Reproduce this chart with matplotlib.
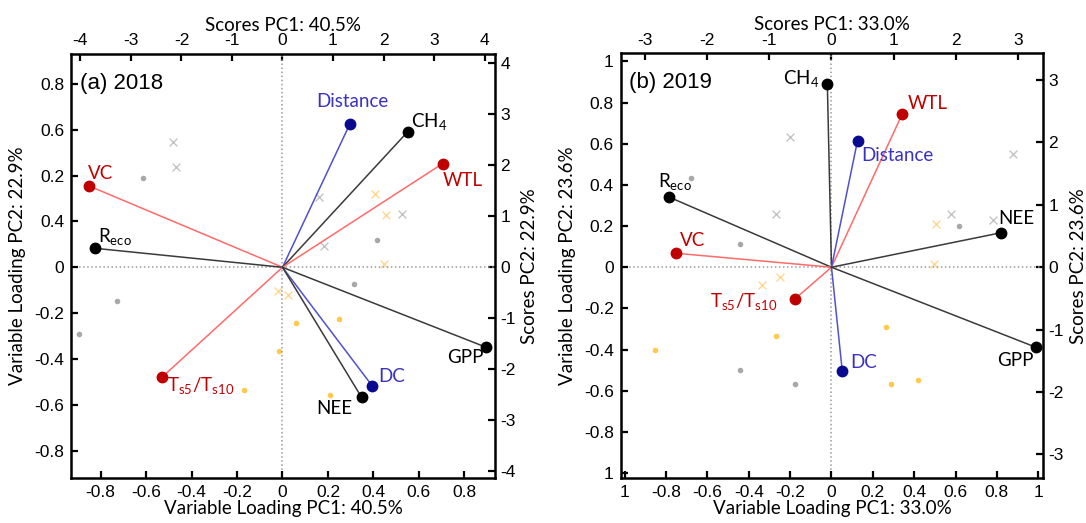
import matplotlib
matplotlib.use("Agg")
import matplotlib.pyplot as plt
import numpy as np

plt.rcParams['axes.unicode_minus'] = False
plt.rcParams['mathtext.fontset'] = 'custom'
plt.rcParams['mathtext.rm'] = 'Lato'
plt.rcParams['mathtext.it'] = 'Lato:italic'

# ---------------- data: 2018 ----------------
vars18 = ['Distance', 'CH$_4$', 'WTL', 'VC', 'R$_{\\mathrm{eco}}$',
          'T$_{\\mathrm{s5}}$/T$_{\\mathrm{s10}}$', 'DC', 'NEE', 'GPP']
group18 = ['blue', 'black', 'red', 'red', 'black', 'red', 'blue', 'black', 'black']
load18_x = [0.297, 0.550, 0.704, -0.852, -0.826, -0.531, 0.394, 0.348, 0.894]
load18_y = [0.626, 0.590, 0.452, 0.355, 0.083, -0.480, -0.516, -0.567, -0.348]

gdot18_x = [-2.77, 1.87, 1.41, -3.28, -4.02]
gdot18_y = [1.76, 0.54, -0.33, -0.67, -1.31]
gx18_x = [-2.17, -2.10, 0.72, 2.36, 0.82]
gx18_y = [2.45, 1.96, 1.38, 1.05, 0.42]
ydot18_x = [0.26, 1.11, -0.06, -0.77, 0.94]
ydot18_y = [-1.09, -1.02, -1.64, -2.41, -2.50]
yx18_x = [1.84, 2.05, 2.00, -0.08, 0.10]
yx18_y = [1.44, 1.03, 0.06, -0.46, -0.54]

# ---------------- data: 2019 ----------------
vars19 = ['CH$_4$', 'WTL', 'Distance', 'R$_{\\mathrm{eco}}$', 'VC', 'NEE',
          'T$_{\\mathrm{s5}}$/T$_{\\mathrm{s10}}$', 'DC', 'GPP']
group19 = ['black', 'red', 'blue', 'black', 'red', 'black', 'red', 'blue', 'black']
load19_x = [-0.020, 0.342, 0.126, -0.784, -0.753, 0.822, -0.177, 0.052, 0.987]
load19_y = [0.888, 0.744, 0.615, 0.340, 0.068, 0.168, -0.154, -0.503, -0.388]

gdot19_x = [-2.26, -1.48, 2.05, -1.48, -0.59]
gdot19_y = [1.43, 0.37, 0.66, -1.64, -1.87]
gx19_x = [-0.67, -0.89, 2.92, 1.93, 2.60]
gx19_y = [2.08, 0.86, 1.82, 0.86, 0.75]
ydot19_x = [-2.85, -0.90, 0.87, 0.96, 1.39]
ydot19_y = [-1.32, -1.10, -0.95, -1.87, -1.81]
yx19_x = [1.68, 1.65, -1.12, -0.83]
yx19_y = [0.70, 0.05, -0.29, -0.16]

# tick labels (as printed in the original figure)
yt18 = [0.8, 0.6, 0.4, 0.2, 0, -0.2, -0.4, -0.6, -0.8]
ytl18 = ['0.8', '0.6', '0.2', '0.4', '0', '-0.2', '-0.4', '-0.6', '-0.8']
xt18 = [-0.8, -0.6, -0.4, -0.2, 0, 0.2, 0.4, 0.6, 0.8]
xtl18 = ['-0.8', '-0.6', '-0.4', '-0.2', '0', '0.2', '0.4', '0.6', '0.8']
st18 = [-4, -3, -2, -1, 0, 1, 2, 3, 4]

xt19 = [-1, -0.8, -0.6, -0.4, -0.2, 0, 0.2, 0.4, 0.6, 0.8, 1]
xtl19 = ['1', '-0.8', '-0.6', '-0.4', '-0.2', '0', '0.2', '0.4', '0.6', '0.8', '1']
yt19 = [1, 0.8, 0.6, 0.4, 0.2, 0, -0.2, -0.4, -0.6, -0.8, -1]
ytl19 = ['1', '0.8', '0.6', '0.4', '0.2', '0', '-0.2', '-0.4', '-0.6', '-0.8', '1']
st19 = [-3, -2, -1, 0, 1, 2, 3]

# ---------------- styling ----------------
LINE = {'black': '#3a3a3a', 'red': '#ff6a6a', 'blue': '#5050d0'}
MARK = {'black': '#000000', 'red': '#c00000', 'blue': '#0a0a90'}
TEXT = {'black': '#000000', 'red': '#c00000', 'blue': '#3a32c0'}
TICKFONT = 'Liberation Sans'
LABFONT = 'Lato'
LABSIZE = 13.5

W, H = 1086, 523
fig = plt.figure(figsize=(W / 100, H / 100), dpi=100)


def px_rect(l, r, t, b):
    return [l / W, 1 - b / H, (r - l) / W, (b - t) / H]


def panel(rect, xl, yl, fac_x, fac_y, names, groups, lx, ly, offsets, has,
          scores, xt, xtl, yt, ytl, st, title, pc1, pc2):
    # score axes (top / right), drawn below
    axs = fig.add_axes(rect)
    axs.set_xlim(xl[0] * fac_x, xl[1] * fac_x)
    axs.set_ylim(yl[0] * fac_y, yl[1] * fac_y)
    axs.xaxis.tick_top()
    axs.yaxis.tick_right()
    axs.xaxis.set_label_position('top')
    axs.yaxis.set_label_position('right')
    axs.set_xticks(st)
    axs.set_yticks(st)
    axs.set_xticklabels([str(v) for v in st], fontfamily=TICKFONT, fontsize=12.5)
    axs.set_yticklabels([str(v) for v in st], fontfamily=TICKFONT, fontsize=12.5)
    axs.tick_params(direction='in', length=5, width=1.6, pad=4)
    for s in axs.spines.values():
        s.set_visible(False)
    (gdx, gdy), (gxx, gxy), (ydx, ydy), (yxx, yxy) = scores
    axs.scatter(gdx, gdy, s=16, color='#a8a8a8', zorder=2, linewidths=0)
    axs.scatter(gxx, gxy, s=32, marker='x', color='#c4c4c4', zorder=2, linewidths=1)
    axs.scatter(ydx, ydy, s=16, color='#ffc94d', zorder=2, linewidths=0)
    axs.scatter(yxx, yxy, s=32, marker='x', color='#ffd890', zorder=2, linewidths=1)
    axs.set_xlabel('Scores PC1: ' + pc1, fontfamily=LABFONT, fontsize=LABSIZE, labelpad=2)
    axs.set_ylabel('Scores PC2: ' + pc2, fontfamily=LABFONT, fontsize=LABSIZE, labelpad=4)

    # loading axes (bottom / left)
    ax = fig.add_axes(rect)
    ax.patch.set_alpha(0)
    ax.set_xlim(*xl)
    ax.set_ylim(*yl)
    ax.set_xticks(xt)
    ax.set_xticklabels(xtl, fontfamily=TICKFONT, fontsize=12.5)
    ax.set_yticks(yt)
    ax.set_yticklabels(ytl, fontfamily=TICKFONT, fontsize=12.5)
    ax.tick_params(direction='in', length=5, width=1.6, pad=5)
    for s in ax.spines.values():
        s.set_linewidth(1.8)
    ax.axhline(0, color='#9a9a9a', ls=':', lw=1.1, zorder=1)
    ax.axvline(0, color='#9a9a9a', ls=':', lw=1.1, zorder=1)
    for n, g, x, y, off, ha in zip(names, groups, lx, ly, offsets, has):
        ax.plot([0, x], [0, y], color=LINE[g], lw=1.1, zorder=3)
        ax.plot([x], [y], 'o', color=MARK[g], ms=7.5, zorder=4)
        ax.annotate(n, (x, y), xytext=off, textcoords='offset pixels',
                    ha=ha, va='center', color=TEXT[g], fontfamily=LABFONT,
                    fontsize=LABSIZE, zorder=5)
    ax.text(0.02, 0.955, title, transform=ax.transAxes, ha='left', va='top',
            fontfamily=TICKFONT, fontsize=16)
    ax.set_xlabel('Variable Loading PC1: ' + pc1, fontfamily=LABFONT, fontsize=LABSIZE, labelpad=0)
    ax.set_ylabel('Variable Loading PC2: ' + pc2, fontfamily=LABFONT, fontsize=LABSIZE, labelpad=6)
    return ax


# label offsets (pixels) and alignment
off18 = [(2, 22), (3, 10), (0, -17), (-1, 12), (3, 12), (5, -8), (6, 9), (-9, -11), (-2, -10)]
ha18 = ['center', 'left', 'left', 'left', 'left', 'left', 'left', 'right', 'right']
off19 = [(-8, 6), (6, 11), (4, -15), (6, 16), (4, 13), (-3, 14), (-18, -3), (8, 8), (-2, -13)]
ha19 = ['right', 'left', 'left', 'center', 'left', 'left', 'right', 'left', 'right']

panel(px_rect(71.3, 494.8, 54, 478.3), (-0.929, 0.934), (-0.92, 0.93), 4.5, 4.5,
      vars18, group18, load18_x, load18_y, off18, ha18,
      [(gdot18_x, gdot18_y), (gx18_x, gx18_y), (ydot18_x, ydot18_y), (yx18_x, yx18_y)],
      xt18, xtl18, yt18, ytl18, st18, '(a) 2018', '40.5%', '22.9%')

panel(px_rect(620.8, 1043, 53.3, 478.3), (-1.019, 1.023), (-1.025, 1.039), 3.33, 3.3,
      vars19, group19, load19_x, load19_y, off19, ha19,
      [(gdot19_x, gdot19_y), (gx19_x, gx19_y), (ydot19_x, ydot19_y), (yx19_x, yx19_y)],
      xt19, xtl19, yt19, ytl19, st19, '(b) 2019', '33.0%', '23.6%')

fig.savefig('out.png', dpi=100)
